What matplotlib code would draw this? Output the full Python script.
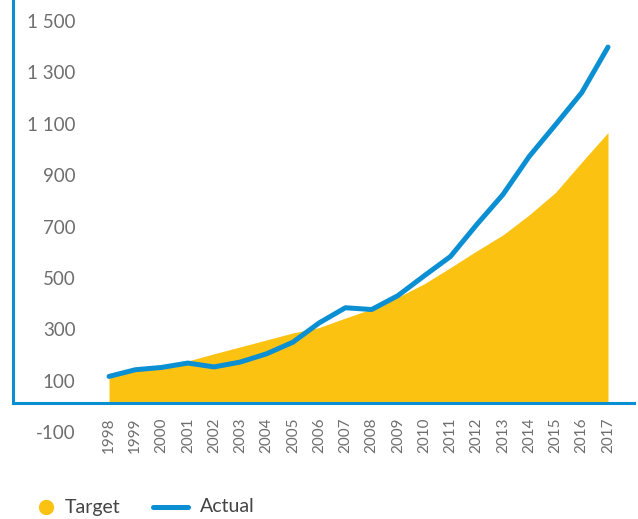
import matplotlib
matplotlib.use('Agg')
import matplotlib.pyplot as plt
from matplotlib.lines import Line2D
from matplotlib.transforms import ScaledTranslation

years = ['1998', '1999', '2000', '2001', '2002', '2003', '2004', '2005', '2006', '2007',
         '2008', '2009', '2010', '2011', '2012', '2013', '2014', '2015', '2016', '2017']
target = [100, 122, 138, 162, 190, 217, 244, 271, 292, 329,
          364, 410, 462, 525, 590, 652, 730, 817, 935, 1050]
actual = [102, 128, 137, 154, 139, 158, 190, 235, 310, 369,
          362, 416, 493, 568, 692, 809, 957, 1080, 1205, 1382]
y_ticks = [-100, 100, 300, 500, 700, 900, 1100, 1300, 1500]
y_tick_labels = ['-100', '100', '300', '500', '700', '900', '1 100', '1 300', '1 500']

BLUE = '#0b8fd3'
YEL = '#fcc212'
GREY = '#6e6e6e'

plt.rcParams['font.family'] = ['Lato', 'DejaVu Sans']

fig = plt.figure(figsize=(6.38, 5.19), dpi=100)
ax = fig.add_axes([13 / 638, 70 / 519, 621 / 638, 449 / 519])
x = list(range(len(years)))
ax.fill_between(x, 0, target, color=YEL, lw=0, zorder=1)
ax.plot(x, actual, color=BLUE, lw=3.6, solid_capstyle='round',
        solid_joinstyle='round', zorder=3)

ax.set_xlim(-3.656, 19.99)
ax.set_ylim(-180, 1565)

for s in ['top', 'right']:
    ax.spines[s].set_visible(False)
ax.spines['bottom'].set_position(('data', 0))
ax.spines['left'].set_bounds(0, 1565)
for s in ['bottom', 'left']:
    ax.spines[s].set_color(BLUE)
    ax.spines[s].set_linewidth(2.2)
    ax.spines[s].set_zorder(4)

ax.set_xticks(x, years, rotation=90)
ax.tick_params(axis='x', length=0, pad=11, labelsize=11, labelcolor=GREY)
ax.set_yticks(y_ticks, y_tick_labels)
ax.tick_params(axis='y', length=0, pad=-45, labelsize=13.5, labelcolor=GREY)
off = ScaledTranslation(0, -4 / 100, fig.dpi_scale_trans)
for lab in ax.get_yticklabels():
    lab.set_transform(lab.get_transform() + off)

# legend
ly = 1 - 507 / 519
fig.add_artist(Line2D([46 / 638], [ly], marker='o', markersize=10, color=YEL,
                      linestyle='none', transform=fig.transFigure))
fig.text(65 / 638, ly, 'Target', fontsize=14, color='#444444', va='center', ha='left')
fig.add_artist(Line2D([153 / 638, 188 / 638], [ly, ly], lw=3.6, color=BLUE,
                      solid_capstyle='round', transform=fig.transFigure))
fig.text(200 / 638, ly, 'Actual', fontsize=14, color='#444444', va='center', ha='left')

fig.savefig('out.png', dpi=100)
